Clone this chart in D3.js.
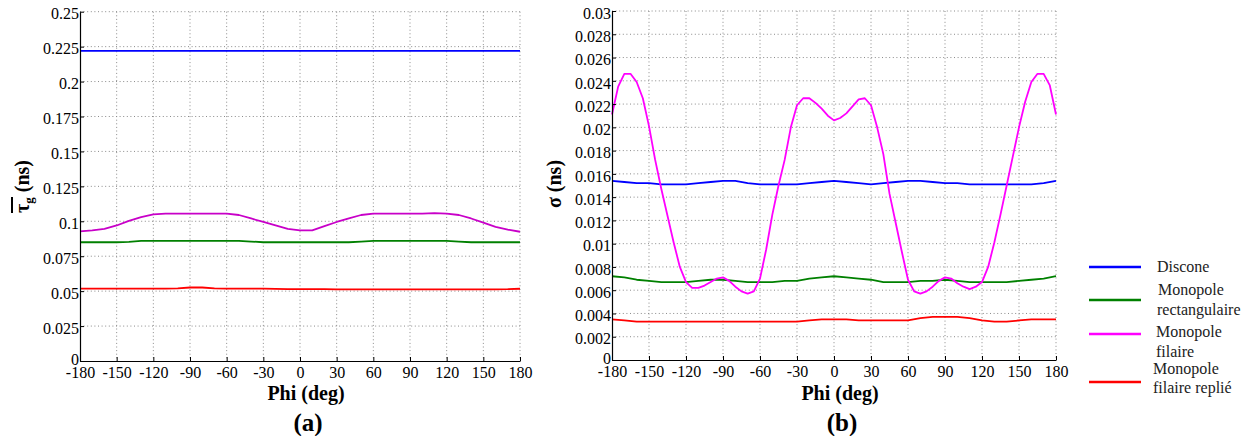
<!DOCTYPE html>
<html><head><meta charset="utf-8">
<script src="https://cdn.jsdelivr.net/npm/d3@7"></script>
<style>
body{margin:0;background:#fff}
text{font-family:"Liberation Serif","Times New Roman",serif}
</style>
</head><body>
<svg id="c" width="1258" height="436"></svg>
<script>
// ---------- data ----------
const phiTicks = [-180,-150,-120,-90,-60,-30,0,30,60,90,120,150,180];
const phi10 = [-180,-170,-160,-150,-140,-130,-120,-110,-100,-90,-80,-70,-60,-50,-40,-30,-20,-10,0,10,20,30,40,50,60,70,80,90,100,110,120,130,140,150,160,170,180];
const phi5 = [-180,-175,-170,-165,-160,-155,-150,-145,-140,-135,-130,-125,-120,-115,-110,-105,-100,-95,-90,-85,-80,-75,-70,-65,-60,-55,-50,-45,-40,-35,-30,-25,-20,-15,-10,-5,0,5,10,15,20,25,30,35,40,45,50,55,60,65,70,75,80,85,90,95,100,105,110,115,120,125,130,135,140,145,150,155,160,165,170,175,180];

const tauTicks = [0,0.025,0.05,0.075,0.1,0.125,0.15,0.175,0.2,0.225,0.25];
const sigmaTicks = [0,0.002,0.004,0.006,0.008,0.01,0.012,0.014,0.016,0.018,0.02,0.022,0.024,0.026,0.028,0.03];

const seriesNames = ["Discone","Monopole rectangulaire","Monopole filaire","Monopole filaire replié"];

// panel (a): mean group delay (ns), sampled every 10 deg
const tauDiscone = [0.222,0.222,0.222,0.222,0.222,0.222,0.222,0.222,0.222,0.222,0.222,0.222,0.222,0.222,0.222,0.222,0.222,0.222,0.222,0.222,0.222,0.222,0.222,0.222,0.222,0.222,0.222,0.222,0.222,0.222,0.222,0.222,0.222,0.222,0.222,0.222,0.222];
const tauRect = [0.085,0.085,0.085,0.085,0.0853,0.086,0.086,0.086,0.086,0.086,0.086,0.086,0.086,0.086,0.0855,0.085,0.085,0.085,0.085,0.085,0.085,0.085,0.085,0.0855,0.086,0.086,0.086,0.086,0.086,0.086,0.086,0.0855,0.085,0.085,0.085,0.085,0.085];
const tauFilaire = [0.0928,0.0935,0.0945,0.097,0.1003,0.103,0.105,0.1055,0.1055,0.1055,0.1055,0.1055,0.1055,0.1045,0.102,0.0995,0.097,0.0945,0.0935,0.0935,0.0965,0.0995,0.102,0.1045,0.1055,0.1055,0.1055,0.1055,0.1055,0.1058,0.1055,0.1045,0.102,0.099,0.096,0.094,0.0925];
const tauReplie = [0.0518,0.0518,0.0518,0.0518,0.0518,0.0518,0.0518,0.0518,0.052,0.0526,0.0526,0.052,0.0518,0.0518,0.0518,0.0518,0.0516,0.0515,0.0515,0.0514,0.0514,0.0513,0.0513,0.0513,0.0513,0.0513,0.0513,0.0513,0.0513,0.0513,0.0513,0.0513,0.0513,0.0513,0.0513,0.0514,0.0517];

// panel (b): standard deviation (ns)
const sigDiscone = [0.0154,0.0153,0.0152,0.0152,0.0151,0.0151,0.0151,0.0152,0.0153,0.0154,0.0154,0.0152,0.0151,0.0151,0.0151,0.0151,0.0152,0.0153,0.0154,0.0153,0.0152,0.0151,0.0152,0.0153,0.0154,0.0154,0.0153,0.0152,0.0152,0.0151,0.0151,0.0151,0.0151,0.0151,0.0151,0.0152,0.0154];
const sigRect = [0.0072,0.0071,0.0069,0.0068,0.0067,0.0067,0.0067,0.0068,0.0069,0.0069,0.0068,0.0067,0.0067,0.0067,0.0068,0.0068,0.007,0.0071,0.0072,0.0071,0.007,0.0069,0.0067,0.0067,0.0067,0.0068,0.0068,0.0069,0.0068,0.0067,0.0067,0.0067,0.0067,0.0068,0.0069,0.007,0.0072];
const sigReplie = [0.0035,0.0034,0.0033,0.0033,0.0033,0.0033,0.0033,0.0033,0.0033,0.0033,0.0033,0.0033,0.0033,0.0033,0.0033,0.0033,0.0034,0.0035,0.0035,0.0035,0.0034,0.0034,0.0034,0.0034,0.0034,0.0036,0.0037,0.0037,0.0037,0.0036,0.0034,0.0033,0.0033,0.0034,0.0035,0.0035,0.0035];
const sigFilaire = [0.0211,0.0235,0.0246,0.0246,0.0239,0.0225,0.0201,0.0172,0.0147,0.0124,0.0101,0.008,0.0067,0.0062,0.0062,0.0064,0.0067,0.007,0.0071,0.0068,0.0063,0.0059,0.0057,0.0059,0.007,0.0095,0.0125,0.015,0.0172,0.02,0.0219,0.0225,0.0225,0.0221,0.0216,0.021,0.0206,0.0208,0.0212,0.0218,0.0224,0.0225,0.0219,0.02,0.0177,0.0143,0.0118,0.0093,0.0069,0.0059,0.0057,0.0059,0.0063,0.0068,0.0071,0.007,0.0066,0.0063,0.0061,0.0063,0.0067,0.008,0.0101,0.0125,0.015,0.0175,0.02,0.0222,0.0239,0.0246,0.0246,0.0236,0.0211];

const colA = ["#0000ff","#008000","#c800c8","#ff0000"];
const colB = ["#0000ff","#008000","#ff00ff","#ff0000"];

// ---------- drawing ----------
const svg = d3.select("#c");
const fmt = d => String(+d.toFixed(4));

function panel(o){
  const x = d3.scaleLinear().domain([-180,180]).range([o.x0,o.x1]);
  const y = d3.scaleLinear().domain([0,o.ymax]).range([o.y1,o.y0]);
  const g = svg.append("g");
  // grid
  g.selectAll(".gx").data(phiTicks.slice(1)).join("line")
    .attr("x1",d=>x(d)).attr("x2",d=>x(d)).attr("y1",o.y0).attr("y2",o.y1)
    .attr("stroke","#8a8a8a").attr("stroke-width",1).attr("stroke-dasharray","1,2.6");
  g.selectAll(".gy").data(o.ticks.slice(1)).join("line")
    .attr("x1",o.x0).attr("x2",o.x1).attr("y1",d=>y(d)).attr("y2",d=>y(d))
    .attr("stroke","#8a8a8a").attr("stroke-width",1).attr("stroke-dasharray","1,2.6");
  // lines
  const line = d3.line().x(d=>x(d[0])).y(d=>y(d[1]));
  o.series.forEach((s,i)=>{
    g.append("path").datum(s.phi.map((p,k)=>[p,s.v[k]]))
      .attr("d",line).attr("fill","none").attr("stroke",o.colors[i])
      .attr("stroke-width",1.8).attr("stroke-linejoin","round");
  });
  // axes
  const ax = g.append("g").attr("transform",`translate(0,${o.y1})`)
    .call(d3.axisBottom(x).tickValues(phiTicks).tickFormat(d=>d).tickSizeInner(-4).tickSizeOuter(0).tickPadding(6));
  const ay = g.append("g").attr("transform",`translate(${o.x0},0)`)
    .call(d3.axisLeft(y).tickValues(o.ticks).tickFormat(fmt).tickSizeInner(-4).tickSizeOuter(0).tickPadding(1));
  [ax,ay].forEach(a=>{
    a.attr("font-family",null);
    a.selectAll("text").attr("font-size",16).attr("fill","#000");
    a.selectAll("line").attr("stroke","#000");
    a.select(".domain").attr("stroke","#000").attr("stroke-width",1.2);
  });
  ay.selectAll("text").attr("dy",(d,i)=> i===0 ? "0.2em" : "0.45em");
  // x label
  g.append("text").attr("x",(o.x0+o.x1)/2+6).attr("y",400).attr("text-anchor","middle")
    .attr("font-size",20).attr("font-weight","bold").text("Phi (deg)");
  g.append("text").attr("x",(o.x0+o.x1)/2+8).attr("y",431).attr("text-anchor","middle")
    .attr("font-size",25).attr("font-weight","bold").text(o.tag);
  return g;
}

panel({x0:80,x1:520,y0:11.7,y1:361,ymax:0.25,ticks:tauTicks,colors:colA,tag:"(a)",
  series:[{phi:phi10,v:tauDiscone},{phi:phi10,v:tauRect},{phi:phi10,v:tauFilaire},{phi:phi10,v:tauReplie}]});
panel({x0:612,x1:1056,y0:11,y1:360,ymax:0.03,ticks:sigmaTicks,colors:colB,tag:"(b)",
  series:[{phi:phi10,v:sigDiscone},{phi:phi10,v:sigRect},{phi:phi5,v:sigFilaire},{phi:phi10,v:sigReplie}]});

// y label (a): overlined tau with subscript g
const la = svg.append("g").attr("transform","translate(29,213) rotate(-90)");
const ta = la.append("text").attr("font-size",20).attr("font-weight","bold");
ta.append("tspan").text("τ");
ta.append("tspan").attr("font-size",13).attr("dy",4).text("g");
ta.append("tspan").attr("dy",-4).text(" (ns)");
la.append("line").attr("x1",0).attr("x2",16).attr("y1",-17).attr("y2",-17).attr("stroke","#000").attr("stroke-width",2);

// y label (b)
svg.append("text").attr("transform","translate(561,184) rotate(-90)").attr("text-anchor","middle")
  .attr("font-size",20).attr("font-weight","bold").text("σ (ns)");

// legend
const leg = [
  {y:267, lines:[{t:"Discone",x:1157,y:272}]},
  {y:300, lines:[{t:"Monopole",x:1158,y:295},{t:"rectangulaire",x:1157,y:315}]},
  {y:334, lines:[{t:"Monopole",x:1156,y:337},{t:"filaire",x:1156,y:357}]},
  {y:382, lines:[{t:"Monopole",x:1153,y:374},{t:"filaire replié",x:1153,y:393}]}
];
leg.forEach((l,i)=>{
  svg.append("line").attr("x1",1089).attr("x2",1141).attr("y1",l.y).attr("y2",l.y)
    .attr("stroke",colB[i]).attr("stroke-width",2.5);
  l.lines.forEach(t=>svg.append("text").attr("x",t.x).attr("y",t.y).attr("font-size",16).attr("fill","#222").text(t.t));
});
</script>
</body></html>
